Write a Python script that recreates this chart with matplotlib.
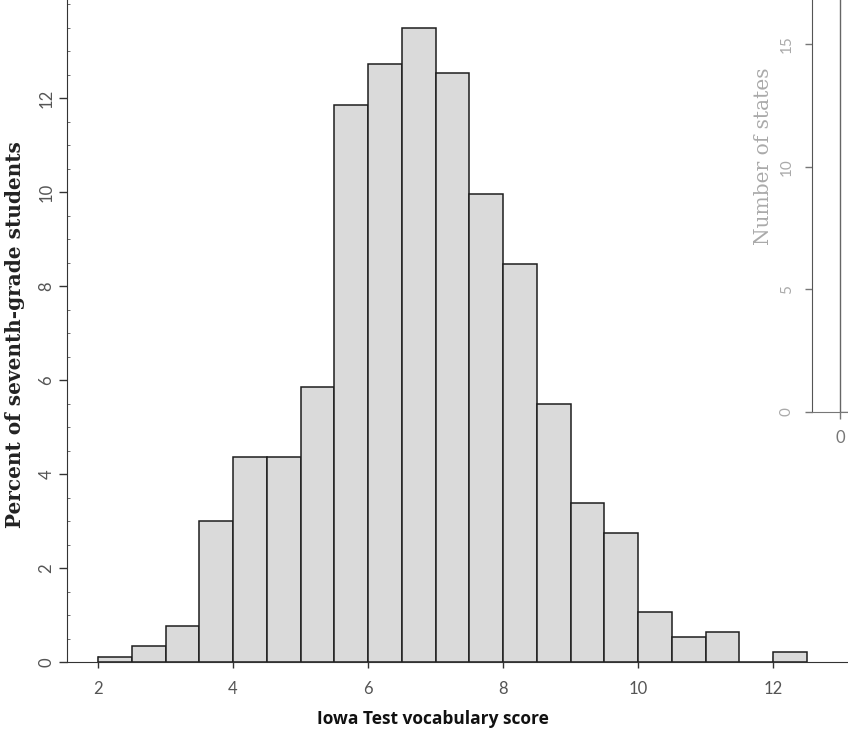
"""Histogram of Iowa Test vocabulary scores (seventh grade), with the edge of a second panel."""
import matplotlib
matplotlib.use("Agg")
import matplotlib.pyplot as plt
import numpy as np

# Iowa Test vocabulary score bins (left edges, width 0.5) and percents
bin_left = [2.0, 2.5, 3.0, 3.5, 4.0, 4.5, 5.0, 5.5, 6.0, 6.5, 7.0,
            7.5, 8.0, 8.5, 9.0, 9.5, 10.0, 10.5, 11.0, 11.5, 12.0]
percent = [0.10, 0.33, 0.77, 3.00, 4.36, 4.36, 5.85, 11.85, 12.72, 13.49, 12.53,
           9.96, 8.47, 5.49, 3.38, 2.74, 1.06, 0.53, 0.64, 0.0, 0.21]
x_ticks = [2, 4, 6, 8, 10, 12]
y_ticks = [0, 2, 4, 6, 8, 10, 12]

# second panel (only its left edge is visible)
states_bins = [0.0]
states_counts = [18]
states_yticks = [0, 5, 10, 15]

W, H = 848, 730
fig = plt.figure(figsize=(W / 100, H / 100), dpi=100)
fig.patch.set_facecolor("white")

tick_font = dict(family=["Lato", "DejaVu Sans"], size=12, color="#555555")

# main panel
ax = fig.add_axes([67 / W, 1 - 662 / H, 1 - 67 / W, 662 / H])
ax.bar(bin_left, percent, width=0.5, align="edge", color="#dadada",
       edgecolor="#1e1e1e", linewidth=1.1, zorder=2)
ax.set_xlim(1.54, 13.11)
ax.set_ylim(0, 14.09)
for side in ("top", "right"):
    ax.spines[side].set_visible(False)
ax.spines["left"].set_color("#333333")
ax.spines["bottom"].set_color("#333333")

ax.set_xticks(x_ticks)
ax.set_xticklabels([str(t) for t in x_ticks], **tick_font)
ax.set_yticks(y_ticks)
ax.set_yticklabels([str(t) for t in y_ticks], rotation=90, va="center", **tick_font)
ax.set_yticks(np.arange(0, 14.01, 0.5), minor=True)
ax.tick_params(axis="x", length=8, width=1, color="#333333", pad=10, direction="inout")
ax.tick_params(axis="y", which="major", length=6, width=1, color="#333333", pad=3)
ax.tick_params(axis="y", which="minor", length=2, width=0.6, color="#555555", direction="in")

ax.set_xlabel("Iowa Test vocabulary score", family=["Open Sans", "DejaVu Sans"],
              fontweight="bold", fontsize=12.5, color="#111111")
ax.xaxis.set_label_coords(0.469, -0.072)
ax.set_ylabel("Percent of seventh-grade students", family=["DejaVu Serif"],
              fontweight="bold", fontsize=14.4, color="#222222")
ax.yaxis.set_label_coords(-0.054, 0.494)

# right panel, cut off at the figure edge
ax2 = fig.add_axes([812 / W, 1 - 412 / H, 40 / W, 412 / H])
ax2.bar(states_bins, states_counts, width=1.0, align="edge", color="white",
        edgecolor="#666666", linewidth=1.0)
ax2.set_xlim(-0.8, 0.35)
ax2.set_ylim(0, 16.8)
for side in ("top", "right"):
    ax2.spines[side].set_visible(False)
ax2.spines["left"].set_color("#555555")
ax2.spines["bottom"].set_color("#777777")
ax2.set_xticks([0])
ax2.set_xticklabels(["0"], family=["Lato", "DejaVu Sans"], size=12, color="#777777")
ax2.set_yticks(states_yticks)
ax2.set_yticklabels([str(t) for t in states_yticks], rotation=90, va="center",
                    family=["Lato", "DejaVu Sans"], size=11, color="#aaaaaa")
ax2.tick_params(length=5, width=1, color="#777777", pad=8)
ax2.set_ylabel("Number of states", family=["DejaVu Serif"], fontsize=14.5,
               color="#aaaaaa")
ax2.yaxis.set_label_coords(-0.98, 0.62)

fig.savefig("out.png", dpi=100, facecolor="white")
